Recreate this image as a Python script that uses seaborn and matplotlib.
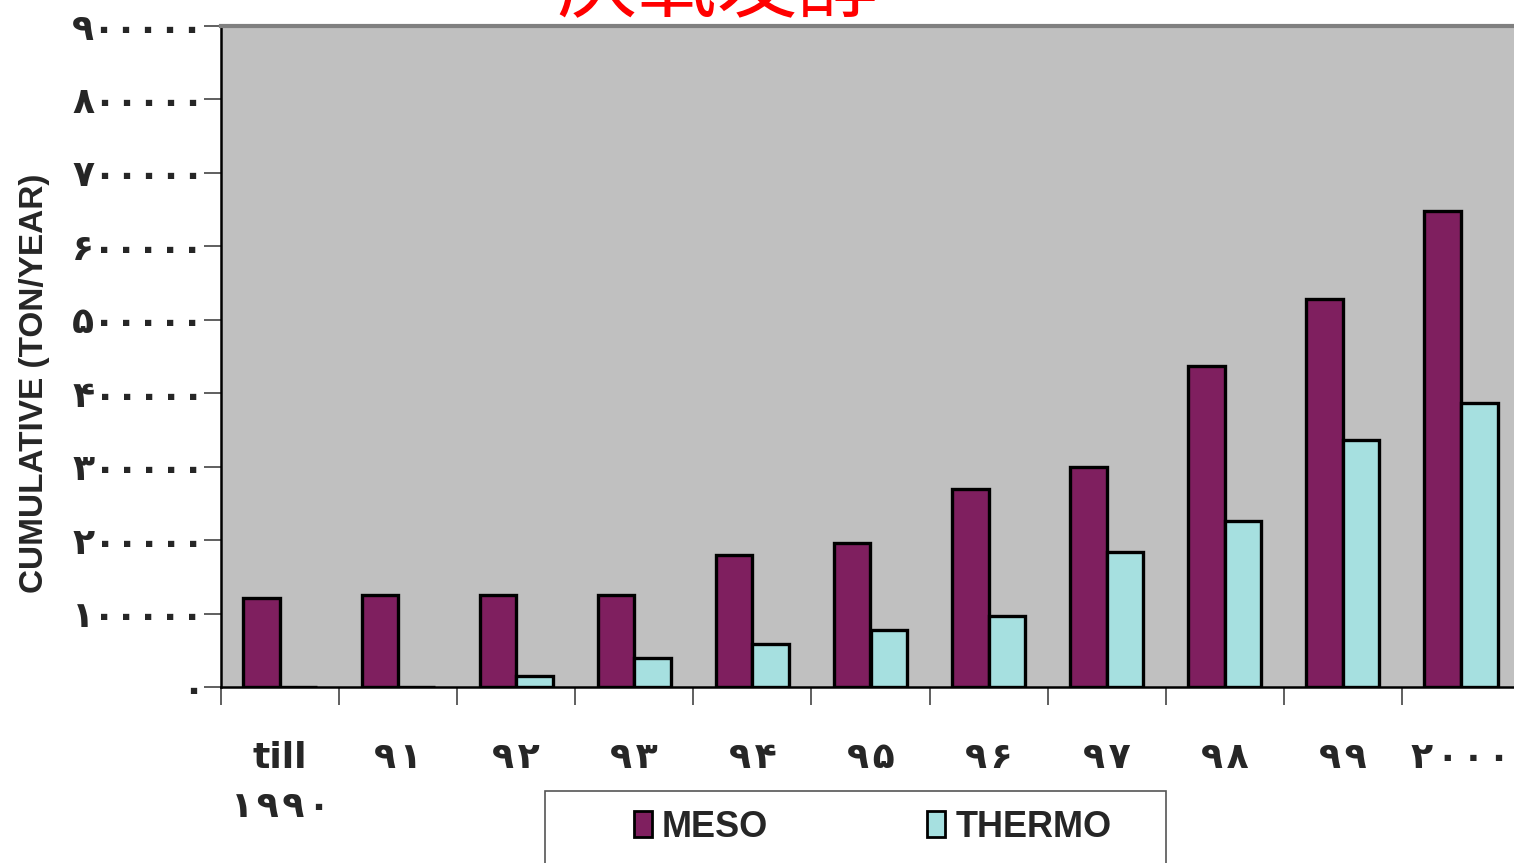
import matplotlib
matplotlib.use("Agg")
import matplotlib.pyplot as plt
from matplotlib.patches import Rectangle
from matplotlib.ticker import FixedLocator
import numpy as np
import pandas as pd
import seaborn as sns

# Cumulative capacity of anaerobic digestion plants (ton/year)
years = ["till\n۱۹۹۰", "۹۱", "۹۲", "۹۳", "۹۴", "۹۵", "۹۶", "۹۷", "۹۸", "۹۹", "۲۰۰۰"]
meso = [121000, 125000, 125000, 125000, 180000, 196000, 270000, 300000, 437000, 528000, 648000]
thermo = [0, 0, 15000, 40000, 58000, 78000, 97000, 184000, 226000, 336000, 387000]
series = ["MESO", "THERMO"]
y_ticks = [0, 100000, 200000, 300000, 400000, 500000, 600000, 700000, 800000, 900000]
title = "厌氧发酵"
y_label = "CUMULATIVE (TON/YEAR)"

colors = {"MESO": "#7F1F5F", "THERMO": "#A6E0E0"}

PERSIAN = str.maketrans("0123456789", "۰۱۲۳۴۵۶۷۸۹")
HAIR = "\u200a"

df = pd.DataFrame({
    "year": years * 2,
    "value": meso + thermo,
    "series": ["MESO"] * len(years) + ["THERMO"] * len(years),
})

sns.set_style("white")
plt.rcParams["font.family"] = ["Liberation Sans", "DejaVu Sans"]
plt.rcParams["font.weight"] = "bold"

fig = plt.figure(figsize=(15.14, 8.63), dpi=100)
W, H = 1514, 863
ax = fig.add_axes([221 / W, 1 - 687 / H, (1520 - 221) / W, (687 - 26) / H])
ax.set_facecolor("#C0C0C0")

sns.barplot(data=df, x="year", y="value", hue="series", order=years,
            hue_order=series, palette=colors, width=0.62, gap=0,
            edgecolor="black", linewidth=2.4, saturation=1, ax=ax, legend=False)

ax.set_xlim(-0.5, len(years) - 0.5)
ax.set_ylim(0, 900000)

# Y axis: Persian digits
ax.set_yticks(y_ticks)
ax.set_yticklabels([str(v).translate(PERSIAN) for v in y_ticks],
                   fontsize=26, fontweight="bold", family=["DejaVu Sans"])
ax.tick_params(axis="y", direction="out", length=12, width=1.2, color="#444444",
               pad=0, left=True)
ax.set_ylabel(y_label, fontsize=24, fontweight="bold")
ax.yaxis.set_label_coords((50 - 221) / 1299, (687 - 383) / 661)

# X axis: labels at bar groups, ticks at group boundaries
ax.set_xticks(range(len(years)))
ax.set_xticklabels(["\n".join(p if p.isascii() else HAIR.join(p) for p in y.split("\n"))
                    for y in years], fontsize=26, fontweight="bold",
                   family=["DejaVu Sans"], linespacing=1.55, va="top")
ax.tick_params(axis="x", which="major", length=0, pad=39)
ax.xaxis.set_minor_locator(FixedLocator(np.arange(-0.5, len(years), 1.0)))
ax.tick_params(axis="x", which="minor", direction="out", length=13, width=1.2,
               color="#444444", bottom=True)

ax.set_xlabel("")
for side in ("left", "bottom"):
    ax.spines[side].set_color("black")
    ax.spines[side].set_linewidth(1.8)
ax.spines["top"].set_color("#808080")
ax.spines["top"].set_linewidth(3)
ax.spines["right"].set_visible(False)

# Title, partly above the canvas
fig.text(717 / W, 1 - 11 / H, title, color="red", fontsize=58, fontweight="normal",
         ha="center", va="baseline", family=["Noto Sans CJK SC"])

# Legend box
fig.add_artist(Rectangle((545 / W, -0.05), (1166 - 545) / W, (0.05 + 1 - 791 / H),
                         transform=fig.transFigure, facecolor="white",
                         edgecolor="#555555", linewidth=1.2))
handles = [Rectangle((0, 0), 1, 1, facecolor=colors[s], edgecolor="black", linewidth=2)
           for s in series]
fig.legend(handles, series, loc="center",
           bbox_to_anchor=(872.5 / W, 1 - 827 / H), ncol=2, frameon=False,
           prop={"family": "Liberation Sans", "weight": "bold", "size": 26},
           handlelength=0.5, handleheight=0.75, handletextpad=0.28,
           columnspacing=4.4)

fig.savefig("out.png", dpi=100)
